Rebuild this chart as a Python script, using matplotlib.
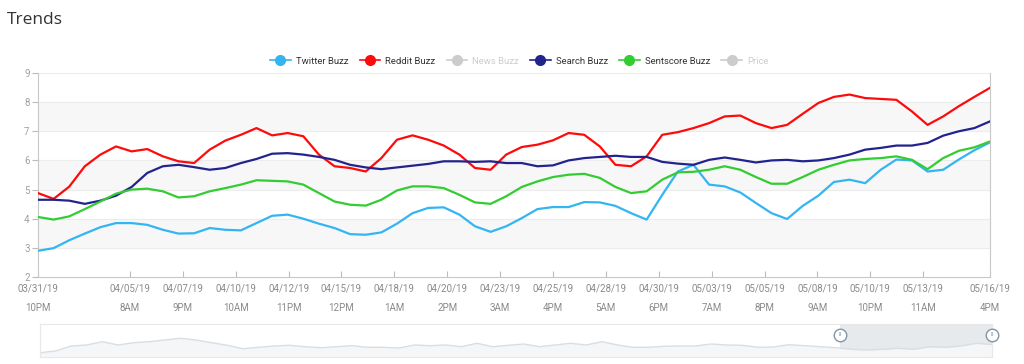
import pandas as pd
import matplotlib
matplotlib.use("Agg")
import matplotlib.pyplot as plt
from matplotlib.lines import Line2D

# sampled every 18 hours from 03/31/19 10PM to 05/16/19 4PM
start = "2019-03-31 22:00"
step = "18h"

twitter = [2.90, 2.99, 3.26, 3.49, 3.71, 3.85, 3.85, 3.79, 3.62, 3.49,
           3.50, 3.68, 3.62, 3.60, 3.85, 4.10, 4.14, 4.00, 3.83, 3.68,
           3.47, 3.45, 3.53, 3.83, 4.19, 4.37, 4.39, 4.14, 3.74, 3.55,
           3.74, 4.02, 4.33, 4.40, 4.40, 4.57, 4.56, 4.44, 4.19, 3.97,
           4.82, 5.62, 5.85, 5.17, 5.11, 4.90, 4.54, 4.19, 3.99, 4.44,
           4.79, 5.26, 5.34, 5.22, 5.68, 6.03, 6.00, 5.62, 5.68, 6.03,
           6.35, 6.62]
reddit = [4.88, 4.68, 5.10, 5.80, 6.20, 6.48, 6.31, 6.39, 6.14, 5.97,
          5.91, 6.37, 6.68, 6.88, 7.11, 6.86, 6.94, 6.83, 6.20, 5.80,
          5.74, 5.62, 6.08, 6.71, 6.86, 6.71, 6.51, 6.20, 5.74, 5.68,
          6.20, 6.46, 6.54, 6.69, 6.94, 6.88, 6.48, 5.85, 5.80, 6.14,
          6.88, 6.97, 7.11, 7.28, 7.51, 7.54, 7.28, 7.11, 7.22, 7.60,
          7.97, 8.18, 8.26, 8.14, 8.11, 8.08, 7.68, 7.22, 7.51, 7.86,
          8.18, 8.49]
search = [4.65, 4.65, 4.62, 4.51, 4.62, 4.79, 5.09, 5.57, 5.80, 5.85,
          5.77, 5.68, 5.74, 5.91, 6.05, 6.23, 6.25, 6.20, 6.12, 6.02,
          5.85, 5.76, 5.70, 5.76, 5.82, 5.88, 5.97, 5.97, 5.95, 5.97,
          5.91, 5.91, 5.80, 5.83, 6.00, 6.08, 6.12, 6.16, 6.12, 6.12,
          5.95, 5.89, 5.85, 6.02, 6.10, 6.02, 5.93, 6.00, 6.02, 5.97,
          6.00, 6.08, 6.20, 6.37, 6.43, 6.51, 6.51, 6.60, 6.85, 7.00,
          7.11, 7.34]
sentscore = [4.06, 3.97, 4.08, 4.33, 4.59, 4.86, 5.00, 5.03, 4.94, 4.73,
             4.77, 4.94, 5.05, 5.17, 5.32, 5.30, 5.28, 5.17, 4.88, 4.59,
             4.48, 4.45, 4.65, 4.97, 5.11, 5.11, 5.05, 4.82, 4.56, 4.51,
             4.77, 5.09, 5.28, 5.43, 5.51, 5.54, 5.40, 5.09, 4.88, 4.94,
             5.34, 5.59, 5.61, 5.68, 5.80, 5.68, 5.43, 5.20, 5.20, 5.43,
             5.68, 5.85, 6.00, 6.05, 6.08, 6.14, 6.02, 5.70, 6.08, 6.33,
             6.45, 6.65]
# overview strip at the bottom (arbitrary units)
navigator = [4.3, 6.0, 11.0, 12.0, 15.3, 12.0, 14.3, 15.3, 17.0, 18.7,
             17.0, 14.3, 11.7, 8.3, 9.7, 11.0, 11.7, 10.3, 9.3, 10.3,
             11.3, 9.7, 9.7, 9.0, 12.0, 11.3, 12.0, 10.3, 13.7, 10.3,
             11.7, 13.0, 10.3, 12.0, 13.7, 12.0, 15.3, 12.0, 9.7, 9.7,
             10.7, 11.0, 11.0, 13.0, 12.0, 11.7, 9.7, 10.0, 12.3, 11.3,
             10.3, 9.3, 7.7, 7.0, 7.7, 8.7, 7.7, 10.3, 9.7, 11.0,
             13.7, 12.5]

tick_start = "2019-04-05 08:00"
tick_count = 16
selection_start = "2019-05-09 09:00"

series = [
    ("Twitter Buzz", twitter, "#33b5f2", True),
    ("Reddit Buzz", reddit, "#ff0a0a", True),
    ("News Buzz", None, "#cccccc", False),
    ("Search Buzz", search, "#23238e", True),
    ("Sentscore Buzz", sentscore, "#33cc33", True),
    ("Price", None, "#cccccc", False),
]

dates = pd.date_range(start, periods=len(twitter), freq=step)
ticks = [dates[0]] + list(pd.date_range(tick_start, periods=tick_count, freq="61h")) + [dates[-1]]


def fmt(d):
    hour = d.hour % 12 or 12
    return d.strftime("%m/%d/%y") + "\n" + f"{hour}{'AM' if d.hour < 12 else 'PM'}"


plt.rcParams["font.family"] = ["Roboto", "DejaVu Sans"]
fig = plt.figure(figsize=(10.24, 3.64), dpi=100)
fig.text(7 / 1024, 1 - 20 / 364, "Trends", fontsize=12.5, color="#333333",
         family=["Open Sans", "DejaVu Sans"], va="center", ha="left")

ax = fig.add_axes([38 / 1024, 1 - 277 / 364, 952 / 1024, 204 / 364])
for lo in (3, 5, 7):
    ax.axhspan(lo, lo + 1, color="#f7f7f7", zorder=0, lw=0)
for y in range(3, 10):
    ax.axhline(y, color="#ececec", lw=0.8, zorder=0.5)

for name, vals, color, on in series:
    if on:
        ax.plot(dates, vals, color=color, lw=1.6, zorder=3)

ax.set_xlim(dates[0], dates[-1])
ax.set_ylim(2, 9)
ax.set_yticks(range(2, 10))
ax.set_xticks(ticks)
ax.set_xticklabels([fmt(t) for t in ticks], linespacing=2.1)
ax.tick_params(axis="x", direction="in", length=4, colors="#bbbbbb",
               labelcolor="#8a8a8a", labelsize=7, pad=5)
ax.tick_params(axis="y", direction="out", length=4, colors="#bbbbbb",
               labelcolor="#a0a0a0", labelsize=7, pad=2)
for side in ("left", "bottom", "right"):
    ax.spines[side].set_color("#c8c8c8")
ax.spines["top"].set_visible(False)

handles = [Line2D([0], [0], color=c, marker="o", markersize=7, lw=1.2)
           for _, _, c, _ in series]
leg = fig.legend(handles, [s[0] for s in series], loc="center",
                 bbox_to_anchor=(0.507, 1 - 61 / 364), ncol=6, frameon=False,
                 fontsize=6.8, handlelength=2.2, handletextpad=0.5, columnspacing=1.2)
for txt, s in zip(leg.get_texts(), series):
    txt.set_color("#333333" if s[3] else "#cccccc")

# navigator
nav = fig.add_axes([40 / 1024, 1 - 357 / 364, 952 / 1024, 33 / 364])
nav.fill_between(dates, navigator, 0, color="#f4f6f8", lw=0)
nav.plot(dates, navigator, color="#d8dee3", lw=1)
sel = pd.Timestamp(selection_start)
nav.axvspan(sel, dates[-1], color="#e6eaed", lw=0, zorder=0.5)
nav.set_xlim(dates[0], dates[-1])
nav.set_ylim(0, 33)
nav.set_xticks([])
nav.set_yticks([])
for side in nav.spines:
    nav.spines[side].set_color("#e8e8e8")
for d in (sel, dates[-1]):
    nav.plot([d], [22], marker="o", markersize=9, markerfacecolor="white",
             markeredgecolor="#8096a8", markeredgewidth=1, clip_on=False, zorder=5)
    nav.text(d, 22, "ll", fontsize=4.5, color="#8096a8", ha="center", va="center",
             zorder=6, clip_on=False)

fig.savefig("out.png", dpi=100)
